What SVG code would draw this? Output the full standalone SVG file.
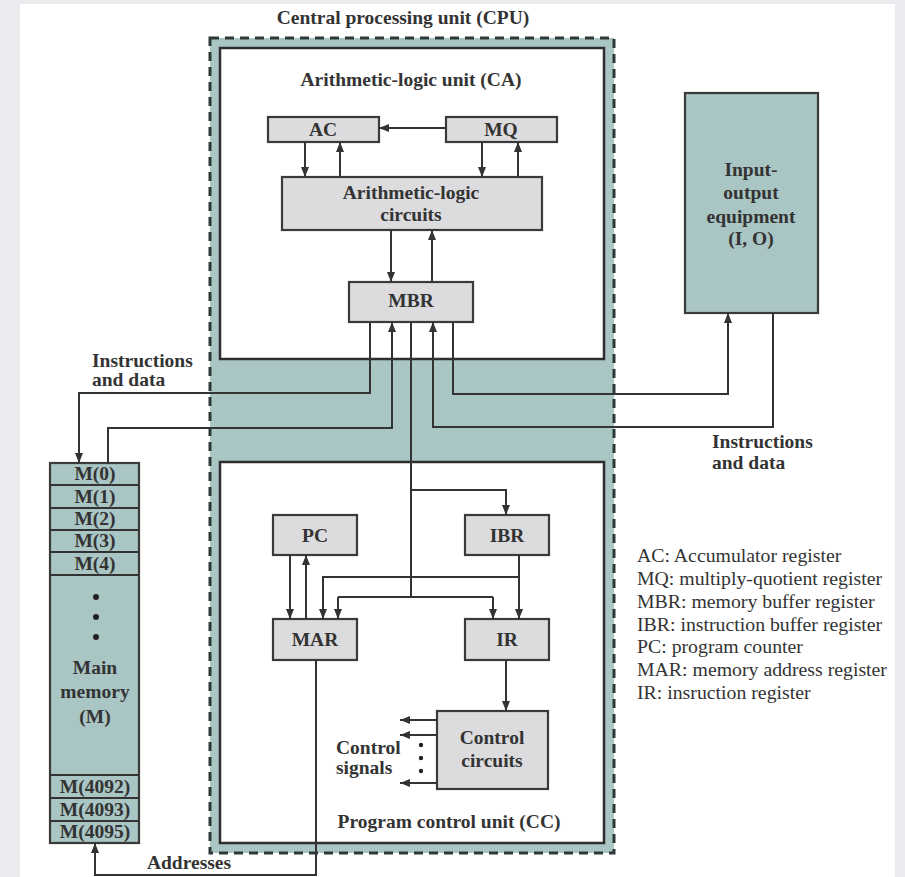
<svg xmlns="http://www.w3.org/2000/svg" width="905" height="877" viewBox="0 0 905 877">
<style>
  .t { font-family: "Liberation Serif", "Times New Roman", serif; font-weight: bold; font-size: 19.5px; fill: #333; text-anchor: middle; }
  .tl { font-family: "Liberation Serif", "Times New Roman", serif; font-weight: bold; font-size: 19.5px; fill: #333; }
  .lg { font-family: "Liberation Serif", "Times New Roman", serif; font-size: 19.8px; fill: #333; }
  .reg { fill: #dcdcde; stroke: #3a3a3a; stroke-width: 2.2; }
  .teal { fill: #a9c5c4; stroke: #3a3a3a; stroke-width: 2.2; }
  .unit { fill: #ffffff; stroke: #2e2e2e; stroke-width: 2.5; }
  .c { fill: none; stroke: #333; stroke-width: 2; }
  .ca { fill: none; stroke: #333; stroke-width: 2; marker-end: url(#ah); }
</style>
<defs>
  <marker id="ah" markerWidth="10" markerHeight="8" refX="10" refY="4" orient="auto" markerUnits="userSpaceOnUse">
    <path d="M0,0 L10,4 L0,8 z" fill="#333"/>
  </marker>
</defs>
<rect x="0" y="0" width="905" height="877" fill="#e9ebee"/>
<rect x="20" y="4" width="875" height="873" fill="#ffffff"/>

<g id="cpu">
  <rect x="210" y="38" width="404" height="815" fill="#a9c5c4" stroke="#2f3838" stroke-width="3" stroke-dasharray="9 6"/>
  <text class="t" x="403" y="24">Central processing unit (CPU)</text>
</g>
<g id="alu">
  <rect class="unit" x="220" y="48" width="384" height="311"/>
  <text class="t" x="411" y="86">Arithmetic-logic unit (CA)</text>
</g>
<g id="cc">
  <rect class="unit" x="220" y="462" width="384" height="381"/>
  <text class="t" x="449" y="828">Program control unit (CC)</text>
</g>

<g id="ac"><rect class="reg" x="268" y="117" width="111" height="25"/><text class="t" x="323" y="136">AC</text></g>
<g id="mq"><rect class="reg" x="446" y="117" width="111" height="25"/><text class="t" x="501" y="136">MQ</text></g>
<g id="alc"><rect class="reg" x="282" y="177" width="260" height="53"/><text class="t" x="411" y="199">Arithmetic-logic</text><text class="t" x="411" y="221">circuits</text></g>
<g id="mbr"><rect class="reg" x="349" y="282" width="124" height="40"/><text class="t" x="411" y="307">MBR</text></g>

<g id="io"><rect class="teal" x="685" y="93" width="133" height="220"/>
  <text class="t" x="751" y="176">Input-</text><text class="t" x="751" y="199">output</text><text class="t" x="751" y="223">equipment</text><text class="t" x="751" y="245">(I, O)</text></g>

<g id="memory">
  <rect class="teal" x="50" y="463" width="89" height="380"/>
  <g class="c">
    <line x1="50" y1="485" x2="139" y2="485"/><line x1="50" y1="508" x2="139" y2="508"/>
    <line x1="50" y1="530" x2="139" y2="530"/><line x1="50" y1="552" x2="139" y2="552"/>
    <line x1="50" y1="575" x2="139" y2="575"/><line x1="50" y1="775" x2="139" y2="775"/>
    <line x1="50" y1="798" x2="139" y2="798"/><line x1="50" y1="821" x2="139" y2="821"/>
  </g>
  <text class="t" x="95" y="480">M(0)</text><text class="t" x="95" y="503">M(1)</text>
  <text class="t" x="95" y="525">M(2)</text><text class="t" x="95" y="547">M(3)</text>
  <text class="t" x="95" y="570">M(4)</text>
  <circle cx="96" cy="597" r="3" fill="#222"/><circle cx="96" cy="617" r="3" fill="#222"/><circle cx="96" cy="637" r="3" fill="#222"/>
  <text class="t" x="95" y="674">Main</text><text class="t" x="95" y="698">memory</text><text class="t" x="95" y="723">(M)</text>
  <text class="t" x="95" y="793">M(4092)</text><text class="t" x="95" y="816">M(4093)</text><text class="t" x="95" y="838">M(4095)</text>
</g>

<g id="pc"><rect class="reg" x="273" y="515" width="84" height="40"/><text class="t" x="315" y="542">PC</text></g>
<g id="ibr"><rect class="reg" x="465" y="515" width="84" height="40"/><text class="t" x="507" y="542">IBR</text></g>
<g id="mar"><rect class="reg" x="273" y="619" width="84" height="41"/><text class="t" x="315" y="646">MAR</text></g>
<g id="ir"><rect class="reg" x="465" y="619" width="84" height="41"/><text class="t" x="507" y="646">IR</text></g>
<g id="control"><rect class="reg" x="437" y="711" width="111" height="78"/><text class="t" x="492" y="744">Control</text><text class="t" x="492" y="767">circuits</text></g>

<g id="connectors">
  <path class="ca" d="M446,128 H379"/>
  <path class="ca" d="M305,142 V177"/>
  <path class="ca" d="M340,177 V142"/>
  <path class="ca" d="M482,142 V177"/>
  <path class="ca" d="M518,177 V142"/>
  <path class="ca" d="M391,230 V282"/>
  <path class="ca" d="M432,282 V230"/>
  <path class="ca" d="M370,322 V393 H79 V463"/>
  <path class="ca" d="M108,463 V428 H392 V322"/>
  <path class="ca" d="M453,322 V394 H728 V313"/>
  <path class="ca" d="M773,313 V427 H433 V322"/>
  <path class="c" d="M411,322 V597"/>
  <path class="ca" d="M411,490 H506 V515"/>
  <path class="c" d="M338,597 H493"/>
  <path class="ca" d="M338,597 V619"/>
  <path class="ca" d="M493,597 V619"/>
  <path class="ca" d="M519,555 V619"/>
  <path class="ca" d="M519,577 H323 V619"/>
  <path class="ca" d="M290,555 V619"/>
  <path class="ca" d="M306,619 V555"/>
  <path class="ca" d="M506,660 V711"/>
  <path class="ca" d="M437,720 H400"/>
  <path class="ca" d="M437,735 H400"/>
  <path class="ca" d="M437,783 H400"/>
  <circle cx="421" cy="745" r="2.2" fill="#222"/><circle cx="421" cy="758" r="2.2" fill="#222"/><circle cx="421" cy="771" r="2.2" fill="#222"/>
  <path class="ca" d="M316,660 V875 H95 V843"/>
</g>

<g id="labels">
  <text class="tl" x="92" y="367">Instructions</text>
  <text class="tl" x="92" y="386">and data</text>
  <text class="tl" x="712" y="448">Instructions</text>
  <text class="tl" x="712" y="469">and data</text>
  <text class="t" x="189" y="869">Addresses</text>
  <text class="tl" x="336" y="754">Control</text>
  <text class="tl" x="336" y="774">signals</text>
</g>

<g id="legend" class="lg">
  <text x="637" y="562">AC: Accumulator register</text>
  <text x="637" y="585">MQ: multiply-quotient register</text>
  <text x="637" y="608">MBR: memory buffer register</text>
  <text x="637" y="631">IBR: instruction buffer register</text>
  <text x="637" y="653">PC: program counter</text>
  <text x="637" y="676">MAR: memory address register</text>
  <text x="637" y="699">IR: insruction register</text>
</g>
</svg>
